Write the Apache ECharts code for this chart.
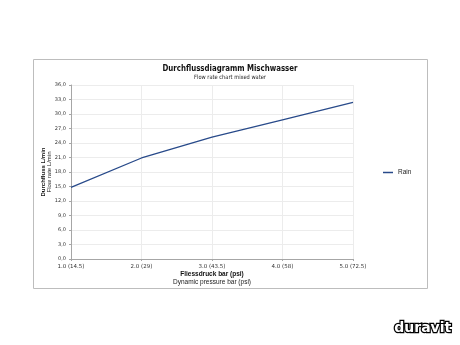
<!DOCTYPE html>
<html><head><meta charset="utf-8">
<script src="https://cdn.jsdelivr.net/npm/echarts@6/dist/echarts.min.js"></script>
<style>html,body{margin:0;padding:0;background:#fff}#c{width:460px;height:345px}</style>
</head><body><div id="c"></div>
<script>
const categories = ["1.0 (14.5)", "2.0 (29)", "3.0 (43.5)", "4.0 (58)", "5.0 (72.5)"];
const rainValues = [14.8, 20.9, 25.2, 28.8, 32.4];
const seriesName = "Rain";
const chartTitle = "Durchflussdiagramm Mischwasser";
const chartSubtitle = "Flow rate chart mixed water";
const yTitle = ["Durchfluss L/min", "Flow rate L/min"];
const xTitle = ["Fliessdruck bar (psi)", "Dynamic pressure bar (psi)"];

const chart = echarts.init(document.getElementById('c'), null, {renderer: 'canvas'});
const ff = '"DejaVu Sans", "Noto Sans", sans-serif';
const nf = '"Liberation Sans", sans-serif';
chart.setOption({
  animation: false,
  textStyle: {fontFamily: ff},
  graphic: [
    {type: 'rect', shape: {x: 33.5, y: 59.5, width: 394, height: 229}, style: {fill: 'none', stroke: '#bdbdbd', lineWidth: 1}, z: -1},
    {type: 'text', x: 230, y: 69, scaleX: 0.78, style: {text: chartTitle, fontSize: 9, fontWeight: 'bold', fontFamily: ff, fill: '#111', align: 'center', verticalAlign: 'middle'}},
    {type: 'text', x: 230, y: 77, scaleX: 0.85, style: {text: chartSubtitle, fontSize: 6, fontFamily: ff, fill: '#222', align: 'center', verticalAlign: 'middle'}},
    {type: 'text', left: 393, top: 320, style: {text: 'duravit', fontSize: 14, fontWeight: 'bold', fontFamily: '"DejaVu Sans", sans-serif', fill: '#fff', stroke: '#000', lineWidth: 2.5}}
  ],
  legend: {
    data: [seriesName], left: 378, top: 164, orient: 'vertical',
    icon: 'rect', itemWidth: 10, itemHeight: 1.5, itemGap: 2,
    textStyle: {fontSize: 6.5, color: '#222', fontFamily: nf}
  },
  grid: {left: 71, right: 107, top: 85, bottom: 86, containLabel: false},
  xAxis: {
    type: 'category', data: categories, boundaryGap: false,
    name: '{a|' + xTitle[0] + '}\n{b|' + xTitle[1] + '}', nameLocation: 'middle', nameGap: 11, nameMoveOverlap: false,
    nameTextStyle: {rich: {a: {fontSize: 6.5, fontWeight: 'bold', color: '#111', lineHeight: 8, fontFamily: nf}, b: {fontSize: 6.5, color: '#222', lineHeight: 8, fontFamily: nf}}},
    axisLine: {lineStyle: {color: '#a6a6a6', width: 1}},
    axisTick: {show: true, length: 2, lineStyle: {color: '#a6a6a6'}},
    axisLabel: {fontSize: 5.5, color: '#333', margin: 5},
    splitLine: {show: true, lineStyle: {color: '#ececec', width: 1}}
  },
  yAxis: {
    type: 'value', min: 0, max: 36, interval: 3,
    name: '{a|' + yTitle[0] + '}\n{b|' + yTitle[1] + '}', nameLocation: 'middle', nameGap: 18, nameRotate: 90, nameMoveOverlap: false,
    nameTextStyle: {rich: {a: {fontSize: 6, fontWeight: 'bold', color: '#111', lineHeight: 6.5, fontFamily: nf}, b: {fontSize: 6, color: '#222', lineHeight: 6.5, fontFamily: nf}}},
    axisLine: {show: true, lineStyle: {color: '#a6a6a6', width: 1}},
    axisTick: {show: true, length: 2, lineStyle: {color: '#a6a6a6'}},
    axisLabel: {fontSize: 5, color: '#333', margin: 5, formatter: v => v.toFixed(1).replace('.', ',')},
    splitLine: {show: true, lineStyle: {color: '#ececec', width: 1}}
  },
  series: [{
    name: seriesName, type: 'line', data: rainValues, showSymbol: false, symbol: 'none',
    lineStyle: {color: '#284a8a', width: 1.3}, itemStyle: {color: '#284a8a'}
  }]
});
</script></body></html>
